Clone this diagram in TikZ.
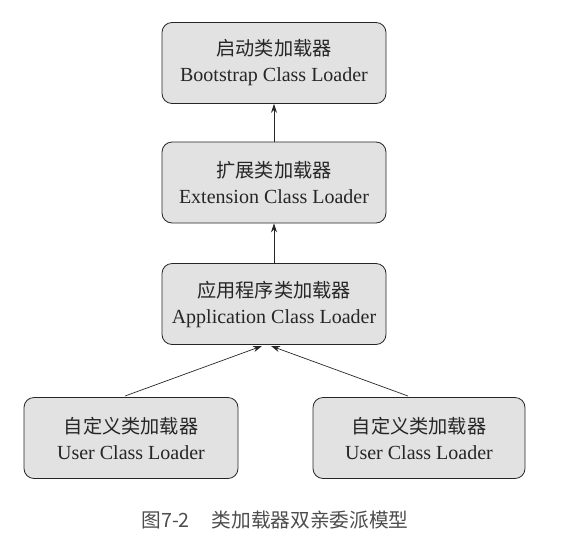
\documentclass[tikz,border=0pt]{standalone}
\usepackage{fontspec}
\setmainfont{Liberation Serif}
\newfontfamily\cjk{Noto Sans CJK SC}[Scale=0.96]
\usetikzlibrary{arrows.meta}
\definecolor{boxgray}{HTML}{E2E2E2}
\tikzset{
  loader/.style={draw=black!85, line width=0.8pt, fill=boxgray, rounded corners=10pt,
    minimum width=#1, minimum height=81pt, align=center, inner sep=0pt,
    font=\fontsize{20pt}{26pt}\selectfont, text=black!85},
  loader/.default=224pt,
  parent/.style={-{Stealth[length=9pt,width=6pt]}, line width=0.7pt, draw=black!85}
}
\begin{document}
\begin{tikzpicture}[x=1pt,y=-1pt]
\useasboundingbox (0,0) rectangle (564,544);
\node[loader] (boot) at (274,63) {{\cjk 启动类加载器}\\Bootstrap Class Loader};
\node[loader] (ext) at (274,182.5) {{\cjk 扩展类加载器}\\Extension Class Loader};
\node[loader] (app) at (274,304) {{\cjk 应用程序类加载器}\\Application Class Loader};
\node[loader=214pt] (user1) at (131,438) {{\cjk 自定义类加载器}\\User Class Loader};
\node[loader=212pt] (user2) at (419,438) {{\cjk 自定义类加载器}\\User Class Loader};
\coordinate (a1) at (262,346);
\coordinate (a2) at (271,346);
\coordinate (s1) at (125,396);
\coordinate (s2) at (408,396);
\draw[parent] (ext) -- (boot);
\draw[parent] (app) -- (ext);
\draw[parent] (s1) -- (a1);
\draw[parent] (s2) -- (a2);
\node[font=\cjk\fontsize{20.5pt}{22pt}\selectfont, text=black!70] (cap) at (275,520) {图7-2\hspace{22pt}类加载器双亲委派模型};
\end{tikzpicture}
\end{document}
